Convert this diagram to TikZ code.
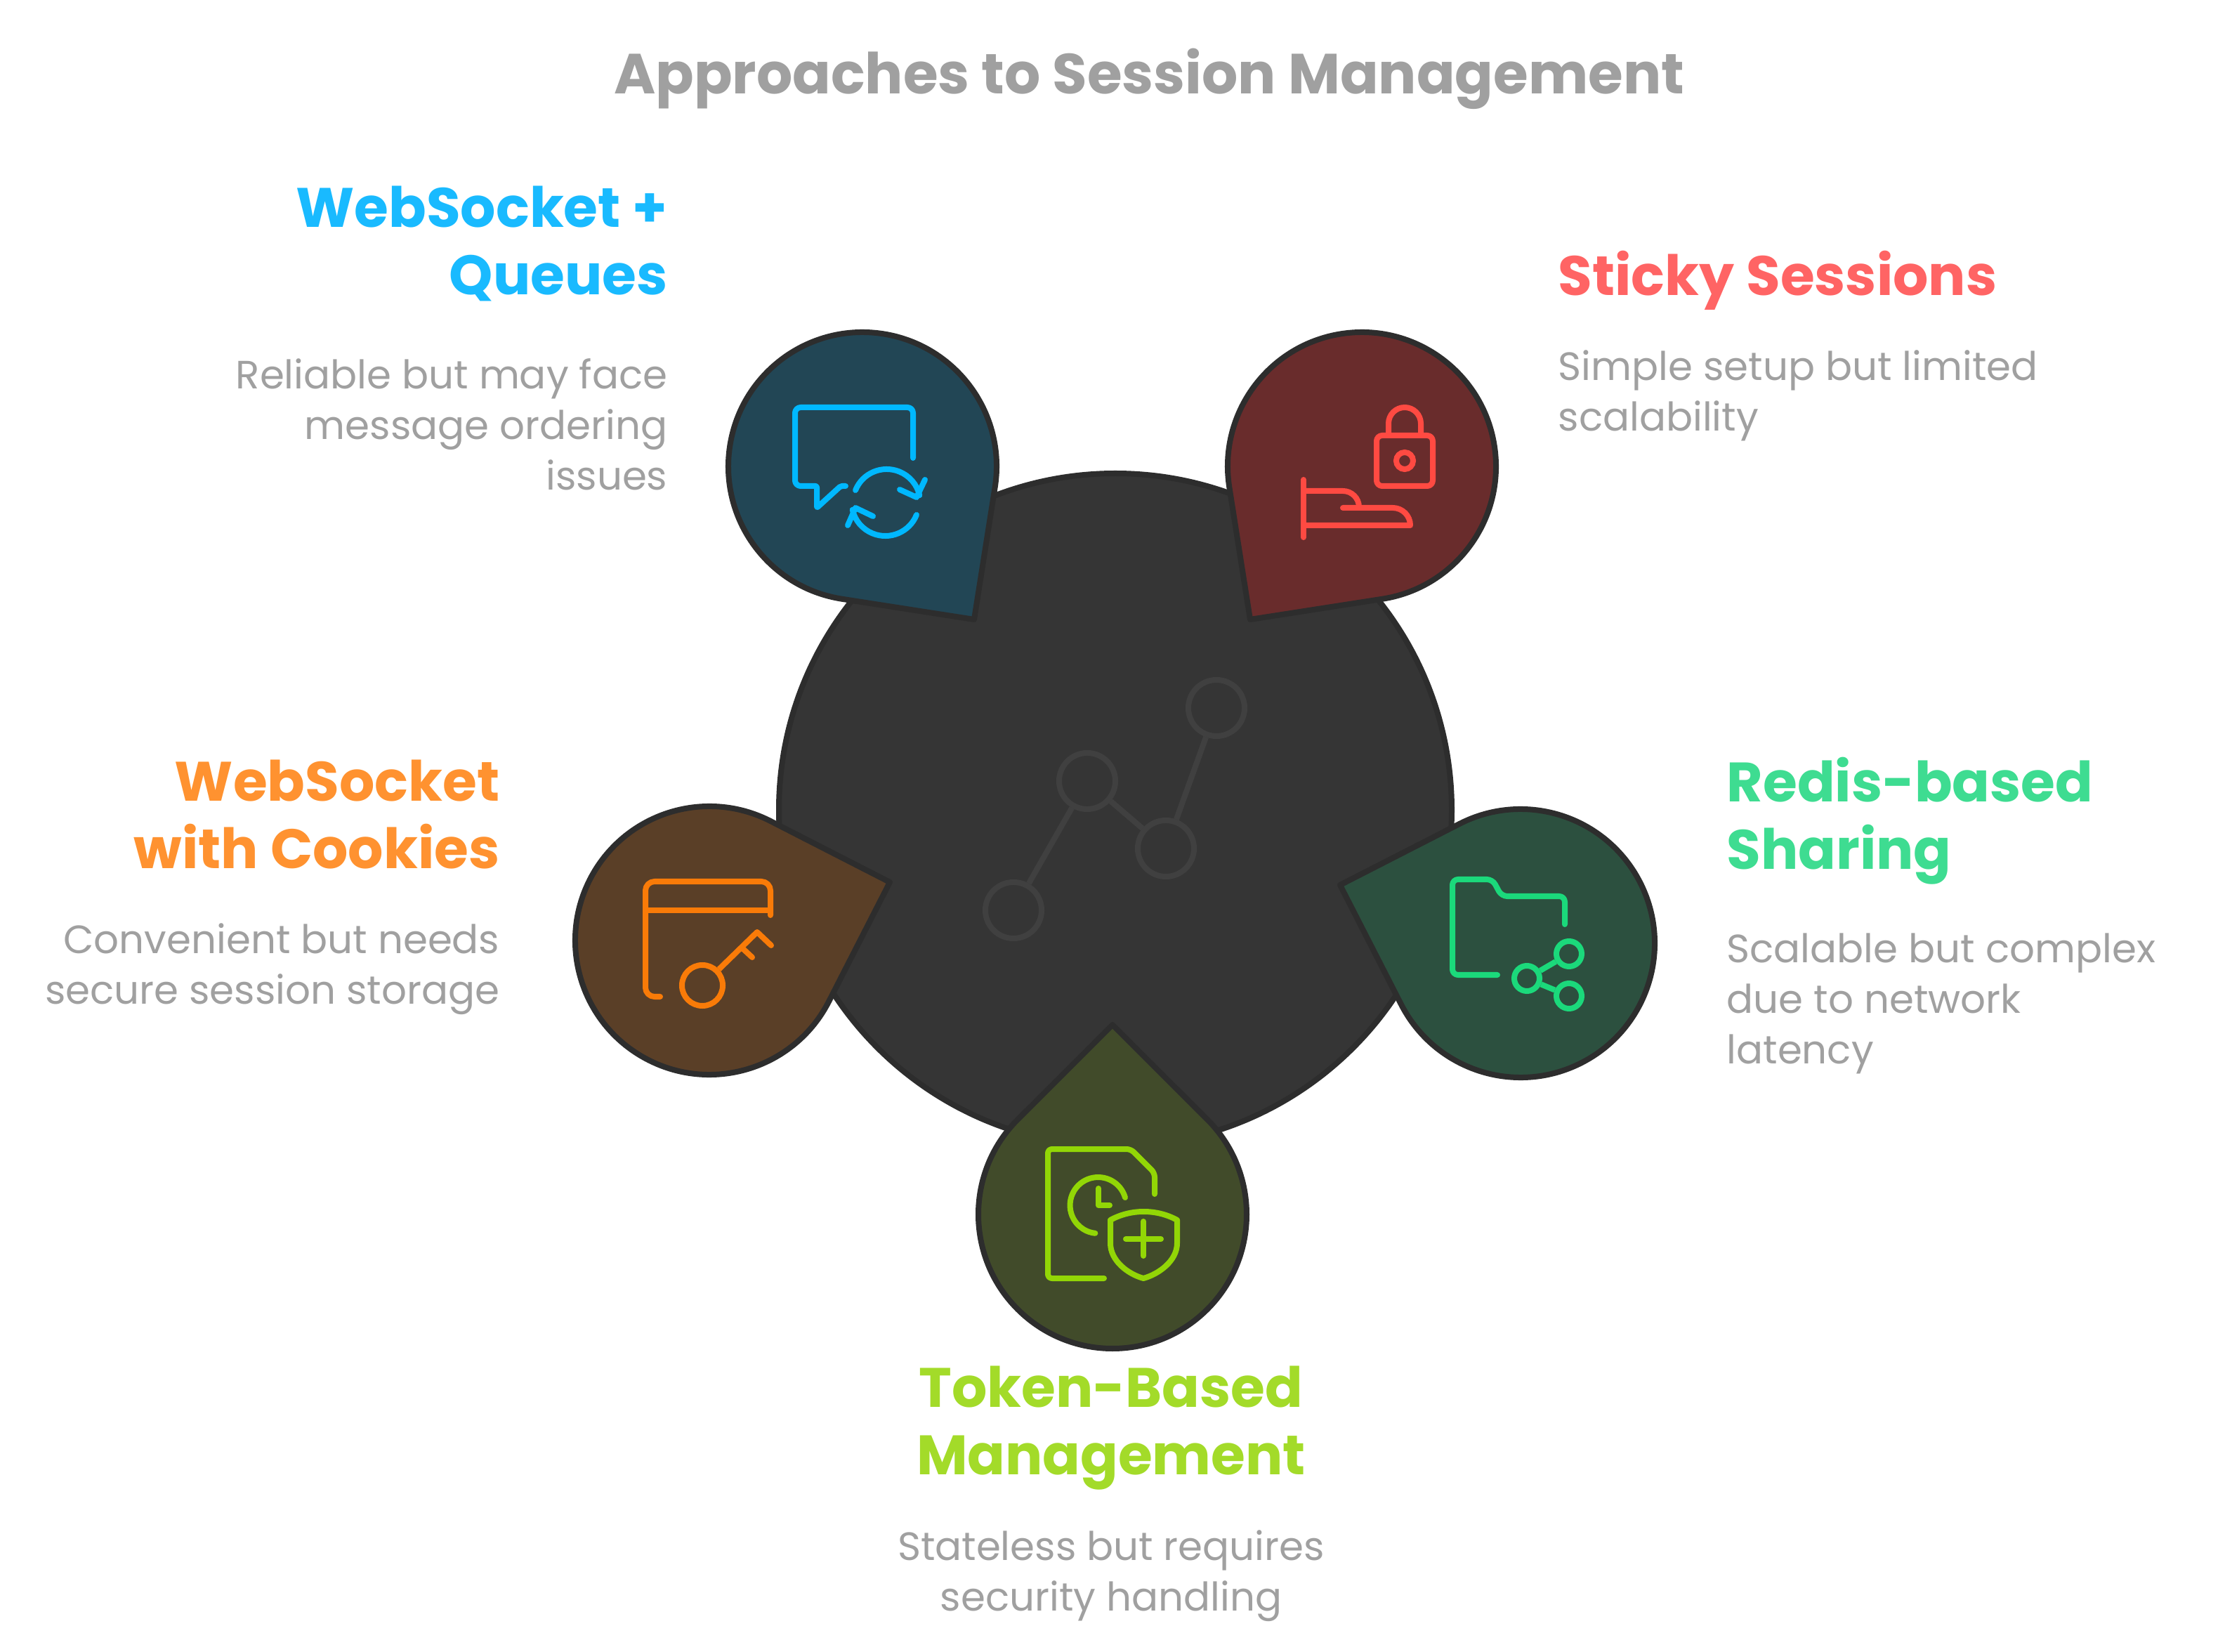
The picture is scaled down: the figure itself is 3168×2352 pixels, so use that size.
\documentclass[tikz,border=0pt]{standalone}
\usepackage{fontspec}
\setmainfont{Poppins}
\usepackage{tikz}
\usetikzlibrary{positioning}

\definecolor{hubfill}{HTML}{353535}
\definecolor{hubicon}{HTML}{404040}
\definecolor{rim}{HTML}{2D2D2D}
\definecolor{greytext}{HTML}{A0A0A0}
\definecolor{queuefill}{HTML}{224655}
\definecolor{queueicon}{HTML}{00B8FF}
\definecolor{queuehead}{HTML}{19BAFF}
\definecolor{stickyfill}{HTML}{692C2C}
\definecolor{stickyicon}{HTML}{FF4A42}
\definecolor{stickyhead}{HTML}{FF6464}
\definecolor{redisfill}{HTML}{2C503F}
\definecolor{redisicon}{HTML}{1BD97B}
\definecolor{redishead}{HTML}{3EDC91}
\definecolor{tokenfill}{HTML}{414B2A}
\definecolor{tokenicon}{HTML}{92D606}
\definecolor{tokenhead}{HTML}{A3DB29}
\definecolor{cookiefill}{HTML}{5A3F27}
\definecolor{cookieicon}{HTML}{F97B08}
\definecolor{cookiehead}{HTML}{FF9230}

\begin{document}
\begin{tikzpicture}[
    x=0.01cm, y=-0.01cm,
    drop/.style={draw=rim, line width=0.8mm, line join=round},
    icon/.style={line width=0.8mm, line cap=round, line join=round},
    ring/.style={circle, draw, line width=0.8mm, inner sep=0pt},
    title/.style={font=\fontsize{22.9}{30}\selectfont\bfseries, text=greytext, inner sep=0pt},
    head/.style={font=\fontsize{22.5}{27.3}\selectfont\bfseries, inner sep=0pt},
    desc/.style={font=\fontsize{16}{20.5}\selectfont, text=greytext, inner sep=0pt}
]
    \useasboundingbox (0,0) rectangle (3168,2352);

    \node[title] (heading) at (1636,112) {Approaches to Session Management};

    % central disc with its chart glyph
    \draw[drop, fill=hubfill] (1588,1153) circle [radius=479];
    \node[ring, draw=hubicon, minimum size=0.8cm] (p1) at (1443,1296) {};
    \node[ring, draw=hubicon, minimum size=0.8cm] (p2) at (1548,1112) {};
    \node[ring, draw=hubicon, minimum size=0.8cm] (p3) at (1660,1208) {};
    \node[ring, draw=hubicon, minimum size=0.8cm] (p4) at (1732,1008) {};
    \draw[icon, draw=hubicon, line cap=butt] (p1) -- (p2);
    \draw[icon, draw=hubicon, line cap=butt] (p2) -- (p3);
    \draw[icon, draw=hubicon, line cap=butt] (p3) -- (p4);

    % the five drops
    \draw[drop, fill=queuefill] (1228,664) ++(99:191) arc[start angle=99, delta angle=270, radius=191] -- (1387,882) -- cycle;
    \draw[drop, fill=stickyfill] (1939,664) ++(171:191) arc[start angle=171, delta angle=270, radius=191] -- (1780,882) -- cycle;
    \draw[drop, fill=redisfill] (2165,1343) ++(243:191) arc[start angle=243, delta angle=270, radius=191] -- (1908,1260) -- cycle;
    \draw[drop, fill=tokenfill] (1584,1729) ++(-45:191) arc[start angle=-45, delta angle=270, radius=191] -- (1584,1459) -- cycle;
    \draw[drop, fill=cookiefill] (1010,1339) ++(27:191) arc[start angle=27, delta angle=270, radius=191] -- (1267,1256) -- cycle;

    % speech bubble and refresh arrows
    \draw[icon, draw=queueicon] (1300,652) [rounded corners=0.08cm] -- (1300,580) -- (1132,580) -- (1132,692) [rounded corners=0.02cm] -- (1163,692) -- (1163,723) -- (1197,692) -- (1204,692);
    \draw[icon, draw=queueicon] (1218,698) arc[start angle=202, delta angle=145, radius=48];
    \draw[icon, draw=queueicon] (1317,683) -- (1305,708) -- (1281,697);
    \draw[icon, draw=queueicon] (1305,733) arc[start angle=22, delta angle=145, radius=48];
    \draw[icon, draw=queueicon] (1207,748) -- (1218,723) -- (1243,735);

    % lock and open hand
    \draw[icon, draw=stickyicon, rounded corners=0.08cm] (1960,620) rectangle (2040,692);
    \draw[icon, draw=stickyicon] (1977,617) -- (1977,603) arc[start angle=180, delta angle=180, radius=23] -- (2023,617);
    \node[ring, draw=stickyicon, minimum size=0.24cm] (keyhole) at (2000,656) {};
    \draw[icon, draw=stickyicon] (1856,683) -- (1856,765);
    \draw[icon, draw=stickyicon] (1856,699) -- (1912,699) arc[start angle=-90, delta angle=90, radius=23];
    \draw[icon, draw=stickyicon] (1912,723) -- (1983,723) arc[start angle=-90, delta angle=90, radius=25] -- (1856,748);

    % folder with share glyph
    \draw[icon, draw=redisicon, rounded corners=0.08cm] (2228,1316) -- (2228,1276) -- (2138,1276) -- (2125,1252) -- (2068,1252) -- (2068,1388) -- (2132,1388);
    \node[ring, draw=redisicon, minimum size=0.36cm] (s1) at (2234,1358) {};
    \node[ring, draw=redisicon, minimum size=0.36cm] (s2) at (2174,1393) {};
    \node[ring, draw=redisicon, minimum size=0.36cm] (s3) at (2234,1418) {};
    \draw[icon, draw=redisicon, line cap=butt] (s2) -- (s1);
    \draw[icon, draw=redisicon, line cap=butt] (s2) -- (s3);

    % document, clock and shield
    \draw[icon, draw=tokenicon, rounded corners=0.06cm] (1644,1700) -- (1644,1670) -- (1610,1636) -- (1492,1636) -- (1492,1820) -- (1572,1820);
    \draw[icon, draw=tokenicon] (1602,1705) arc[start angle=-16, delta angle=-248, radius=40];
    \draw[icon, draw=tokenicon] (1564,1692) -- (1564,1716) -- (1580,1716);
    \draw[icon, draw=tokenicon] (1581,1737) .. controls (1610,1721) and (1647,1721) .. (1676,1737) -- (1676,1770) .. controls (1676,1795) and (1650,1814) .. (1628,1820) .. controls (1606,1814) and (1581,1795) .. (1581,1770) -- cycle;
    \draw[icon, draw=tokenicon] (1603,1764) -- (1653,1764);
    \draw[icon, draw=tokenicon] (1628,1739) -- (1628,1788);

    % browser window and key
    \draw[icon, draw=cookieicon, rounded corners=0.13cm] (1097,1303) -- (1097,1255) -- (919,1255) -- (919,1419) -- (940,1419);
    \draw[icon, draw=cookieicon] (919,1296) -- (1097,1296);
    \node[ring, draw=cookieicon, minimum size=0.58cm] (bow) at (1000,1403) {};
    \draw[icon, draw=cookieicon, line cap=butt] (bow) -- (1078,1327);
    \draw[icon, draw=cookieicon] (1078,1327) -- (1098,1346);
    \draw[icon, draw=cookieicon] (1057,1350) -- (1071,1363);

    % labels
    \node[head, text=queuehead, anchor=north east, align=right] (queuehd) at (951,264) {WebSocket +\\Queues};
    \node[desc, anchor=north east, align=right] (queuetx) at (951,510) {Reliable but may face\\message ordering\\issues};
    \node[head, text=stickyhead, anchor=north west, align=left] (stickyhd) at (2218,356) {Sticky Sessions};
    \node[desc, anchor=north west, align=left] (stickytx) at (2218,498) {Simple setup but limited\\scalability};
    \node[head, text=redishead, anchor=north west, align=left] (redishd) at (2458,1077) {Redis-based\\Sharing};
    \node[desc, anchor=north west, align=left] (redistx) at (2458,1328) {Scalable but complex\\due to network\\latency};
    \node[head, text=tokenhead, anchor=north, align=center] (tokenhd) at (1582,1944) {Token-Based\\Management};
    \node[desc, anchor=north, align=center] (tokentx) at (1582,2178) {Stateless but requires\\security handling};
    \node[head, text=cookiehead, anchor=north east, align=right] (cookiehd) at (712,1081) {WebSocket\\with Cookies};
    \node[desc, anchor=north east, align=right] (cookietx) at (712,1314) {Convenient but needs\\secure session storage};
\end{tikzpicture}
\end{document}
